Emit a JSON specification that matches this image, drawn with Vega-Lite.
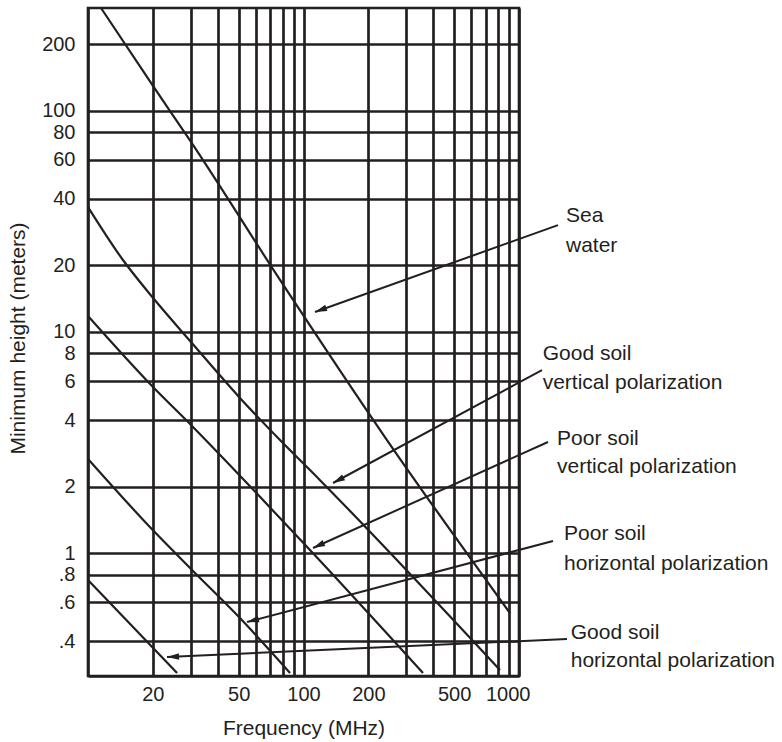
{
  "$schema": "https://vega.github.io/schema/vega-lite/v6.json",
  "width": 431,
  "height": 668,
  "autosize": {"type": "none"},
  "padding": {"left": 88, "top": 8, "right": 263, "bottom": 66},
  "background": "white",
  "config": {
    "font": "Liberation Sans",
    "view": {"stroke": "#231f20", "strokeWidth": 2.6},
    "axis": {
      "labelColor": "#231f20",
      "titleColor": "#231f20",
      "labelFont": "Liberation Sans",
      "titleFont": "Liberation Sans",
      "labelFontSize": 20,
      "titleFontSize": 21,
      "titleFontWeight": "normal",
      "domainColor": "#231f20",
      "domainWidth": 2.6,
      "gridColor": "#231f20",
      "gridOpacity": 1,
      "gridWidth": 2.7,
      "ticks": false
    }
  },
  "datasets": {
    "curves": [
      {"series": "Sea water", "f": 11.49, "h": 291},
      {"series": "Sea water", "f": 20.03, "h": 129.3},
      {"series": "Sea water", "f": 30.06, "h": 72.2},
      {"series": "Sea water", "f": 77.8, "h": 17.2},
      {"series": "Sea water", "f": 244, "h": 3.25},
      {"series": "Sea water", "f": 908, "h": 0.537},
      {"series": "Good soil vertical", "f": 10, "h": 36.7},
      {"series": "Good soil vertical", "f": 14.5, "h": 21.2},
      {"series": "Good soil vertical", "f": 20.1, "h": 14.2},
      {"series": "Good soil vertical", "f": 30.06, "h": 9.01},
      {"series": "Good soil vertical", "f": 50.2, "h": 5.09},
      {"series": "Good soil vertical", "f": 77.8, "h": 3.25},
      {"series": "Good soil vertical", "f": 119.3, "h": 2.14},
      {"series": "Good soil vertical", "f": 816, "h": 0.297},
      {"series": "Poor soil vertical", "f": 10, "h": 11.81},
      {"series": "Poor soil vertical", "f": 20.03, "h": 5.64},
      {"series": "Poor soil vertical", "f": 30.06, "h": 3.8},
      {"series": "Poor soil vertical", "f": 62.8, "h": 1.8},
      {"series": "Poor soil vertical", "f": 107.2, "h": 1.035},
      {"series": "Poor soil vertical", "f": 358.5, "h": 0.288},
      {"series": "Poor soil horizontal", "f": 10, "h": 2.67},
      {"series": "Poor soil horizontal", "f": 20.03, "h": 1.27},
      {"series": "Poor soil horizontal", "f": 30.06, "h": 0.85},
      {"series": "Poor soil horizontal", "f": 50.2, "h": 0.515},
      {"series": "Poor soil horizontal", "f": 86.6, "h": 0.288},
      {"series": "Good soil horizontal", "f": 10, "h": 0.757},
      {"series": "Good soil horizontal", "f": 25.9, "h": 0.288}
    ],
    "arrows": [
      {"series": "Sea water", "f1": 1517, "h1": 30.4, "f2": 113.1, "h2": 12.31},
      {"series": "Good soil vertical", "f1": 1278, "h1": 6.73, "f2": 137.1, "h2": 2.078},
      {"series": "Poor soil vertical", "f1": 1363, "h1": 3.184, "f2": 110.7, "h2": 1.057},
      {"series": "Poor soil horizontal", "f1": 1438, "h1": 1.137, "f2": 54.7, "h2": 0.489},
      {"series": "Good soil horizontal", "f1": 1670, "h1": 0.41, "f2": 23.26, "h2": 0.34}
    ],
    "labels": [
      {"text": "Sea", "f": 1652, "h": 31.4},
      {"text": "water", "f": 1652, "h": 23.0},
      {"text": "Good soil", "f": 1288, "h": 7.47},
      {"text": "vertical polarization", "f": 1288, "h": 5.53},
      {"text": "Poor soil", "f": 1501, "h": 3.09},
      {"text": "vertical polarization", "f": 1501, "h": 2.31},
      {"text": "Poor soil", "f": 1618, "h": 1.148},
      {"text": "horizontal polarization", "f": 1618, "h": 0.84},
      {"text": "Good soil", "f": 1738, "h": 0.41},
      {"text": "horizontal polarization", "f": 1738, "h": 0.306}
    ]
  },
  "layer": [
    {
      "data": {"name": "curves"},
      "mark": {"type": "line", "color": "#231f20", "strokeWidth": 2.2, "interpolate": "monotone"},
      "encoding": {
        "x": {
          "field": "f", "type": "quantitative",
          "scale": {"type": "log", "domain": [10, 1000], "nice": false},
          "axis": {
            "title": "Frequency (MHz)",
            "values": [20, 30, 40, 50, 60, 70, 80, 90, 100, 200, 300, 400, 500, 600, 700, 800, 900, 1000],
            "labelExpr": "indexof([20,50,100,200,500,1000], datum.value) >= 0 ? format(datum.value, 'd') : ''",
            "labelPadding": 8,
            "labelFlush": true,
            "labelFlushOffset": 11,
            "titleX": 215.5,
            "titleY": 58,
            "titleAlign": "center",
            "titleBaseline": "alphabetic",
            "grid": true
          }
        },
        "y": {
          "field": "h", "type": "quantitative",
          "scale": {"type": "log", "domain": [0.279, 291], "nice": false},
          "axis": {
            "title": "Minimum height (meters)",
            "values": [0.4, 0.6, 0.8, 1, 2, 4, 6, 8, 10, 20, 40, 60, 80, 100, 200],
            "labelExpr": "datum.value < 1 ? '.' + round(datum.value * 10) : format(datum.value, 'd')",
            "labelPadding": 13,
            "titleAngle": -90,
            "titleX": -70,
            "titleY": 330,
            "titleAlign": "center",
            "titleBaseline": "middle",
            "grid": true
          }
        },
        "detail": {"field": "series"}
      }
    },
    {
      "data": {"name": "arrows"},
      "mark": {"type": "rule", "color": "#231f20", "strokeWidth": 2},
      "encoding": {
        "x": {"field": "f1", "type": "quantitative", "scale": {"type": "log", "domain": [10, 1000], "nice": false}},
        "y": {"field": "h1", "type": "quantitative", "scale": {"type": "log", "domain": [0.279, 291], "nice": false}},
        "x2": {"field": "f2"},
        "y2": {"field": "h2"}
      }
    },
    {
      "data": {"name": "arrows"},
      "transform": [{"filter": "datum.series == 'Sea water'"}],
      "mark": {"type": "point", "shape": "M0,0L-2,-0.55L-2,0.55Z", "size": 144, "filled": true, "color": "#231f20", "opacity": 1, "angle": 160.3},
      "encoding": {
        "x": {"field": "f2", "type": "quantitative", "scale": {"type": "log", "domain": [10, 1000], "nice": false}},
        "y": {"field": "h2", "type": "quantitative", "scale": {"type": "log", "domain": [0.279, 291], "nice": false}}
      }
    },
    {
      "data": {"name": "arrows"},
      "transform": [{"filter": "datum.series == 'Good soil vertical'"}],
      "mark": {"type": "point", "shape": "M0,0L-2,-0.55L-2,0.55Z", "size": 144, "filled": true, "color": "#231f20", "opacity": 1, "angle": 151.6},
      "encoding": {
        "x": {"field": "f2", "type": "quantitative", "scale": {"type": "log", "domain": [10, 1000], "nice": false}},
        "y": {"field": "h2", "type": "quantitative", "scale": {"type": "log", "domain": [0.279, 291], "nice": false}}
      }
    },
    {
      "data": {"name": "arrows"},
      "transform": [{"filter": "datum.series == 'Poor soil vertical'"}],
      "mark": {"type": "point", "shape": "M0,0L-2,-0.55L-2,0.55Z", "size": 144, "filled": true, "color": "#231f20", "opacity": 1, "angle": 155.7},
      "encoding": {
        "x": {"field": "f2", "type": "quantitative", "scale": {"type": "log", "domain": [10, 1000], "nice": false}},
        "y": {"field": "h2", "type": "quantitative", "scale": {"type": "log", "domain": [0.279, 291], "nice": false}}
      }
    },
    {
      "data": {"name": "arrows"},
      "transform": [{"filter": "datum.series == 'Poor soil horizontal'"}],
      "mark": {"type": "point", "shape": "M0,0L-2,-0.55L-2,0.55Z", "size": 144, "filled": true, "color": "#231f20", "opacity": 1, "angle": 165.2},
      "encoding": {
        "x": {"field": "f2", "type": "quantitative", "scale": {"type": "log", "domain": [10, 1000], "nice": false}},
        "y": {"field": "h2", "type": "quantitative", "scale": {"type": "log", "domain": [0.279, 291], "nice": false}}
      }
    },
    {
      "data": {"name": "arrows"},
      "transform": [{"filter": "datum.series == 'Good soil horizontal'"}],
      "mark": {"type": "point", "shape": "M0,0L-2,-0.55L-2,0.55Z", "size": 144, "filled": true, "color": "#231f20", "opacity": 1, "angle": 177.4},
      "encoding": {
        "x": {"field": "f2", "type": "quantitative", "scale": {"type": "log", "domain": [10, 1000], "nice": false}},
        "y": {"field": "h2", "type": "quantitative", "scale": {"type": "log", "domain": [0.279, 291], "nice": false}}
      }
    },
    {
      "data": {"name": "labels"},
      "mark": {"type": "text", "align": "left", "baseline": "alphabetic", "fontSize": 21, "color": "#231f20", "font": "Liberation Sans"},
      "encoding": {
        "x": {"field": "f", "type": "quantitative", "scale": {"type": "log", "domain": [10, 1000], "nice": false}},
        "y": {"field": "h", "type": "quantitative", "scale": {"type": "log", "domain": [0.279, 291], "nice": false}},
        "text": {"field": "text"}
      }
    }
  ]
}
